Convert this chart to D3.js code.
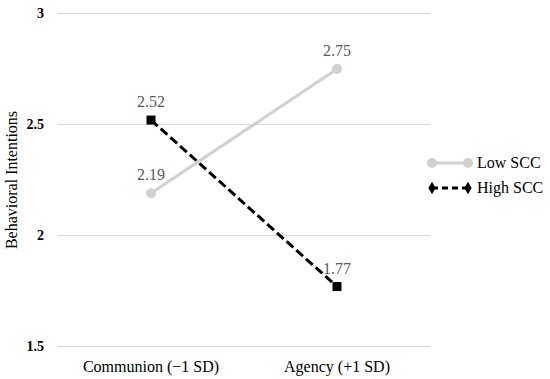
<!DOCTYPE html>
<html>
<head>
<meta charset="utf-8">
<script src="https://cdn.jsdelivr.net/npm/d3@7"></script>
</head>
<body style="margin:0;background:#fff">
<svg id="chart" width="550" height="379"></svg>
<script>
const categories = ["Communion (\u22121 SD)", "Agency (+1 SD)"];
const seriesNames = ["Low SCC", "High SCC"];
const lowScc = [2.19, 2.75];
const highScc = [2.52, 1.77];
const yTicks = [1.5, 2, 2.5, 3];

const FONT = '"Liberation Serif", "Times New Roman", serif';
const svg = d3.select("#chart");
const margin = { top: 13.5, right: 120, bottom: 32.5, left: 58 };
const width = 550, height = 379;
const lowColor = "#d0d0d0";

const x = d3.scaleBand()
  .domain(categories)
  .range([margin.left, width - margin.right]);
const y = d3.scaleLinear()
  .domain([1.5, 3])
  .range([height - margin.bottom, margin.top]);

// gridlines
svg.append("g")
  .selectAll("line")
  .data(yTicks)
  .join("line")
  .attr("x1", margin.left)
  .attr("x2", width - margin.right)
  .attr("y1", d => y(d))
  .attr("y2", d => y(d))
  .attr("stroke", "#d9d9d9")
  .attr("stroke-width", 1);

// y axis labels
const yAxis = svg.append("g")
  .attr("transform", `translate(${margin.left},0)`)
  .call(d3.axisLeft(y).tickValues(yTicks).tickSize(0).tickPadding(14).tickFormat(d3.format("")));
yAxis.select(".domain").remove();
yAxis.selectAll("text")
  .style("font-family", FONT)
  .style("font-size", "14px")
  .style("font-weight", "bold")
  .attr("fill", "#000");

// x axis labels
const xAxis = svg.append("g")
  .attr("transform", `translate(0,${height - margin.bottom})`)
  .call(d3.axisBottom(x).tickSize(0).tickPadding(14));
xAxis.select(".domain").remove();
xAxis.selectAll("text")
  .style("font-family", FONT)
  .style("font-size", "16px")
  .attr("fill", "#000");

// y axis title
svg.append("text")
  .attr("transform", `translate(17,${(y(1.5) + y(3)) / 2}) rotate(-90)`)
  .attr("text-anchor", "middle")
  .style("font-family", FONT)
  .style("font-size", "16px")
  .attr("fill", "#000")
  .text("Behavioral Intentions");

const cx = d => x(d) + x.bandwidth() / 2;
const line = d3.line().x(d => cx(d.cat)).y(d => y(d.v));
const lowPts = categories.map((c, i) => ({ cat: c, v: lowScc[i] }));
const highPts = categories.map((c, i) => ({ cat: c, v: highScc[i] }));

// Low SCC
svg.append("path")
  .datum(lowPts)
  .attr("d", line)
  .attr("fill", "none")
  .attr("stroke", lowColor)
  .attr("stroke-width", 3);
svg.append("g").selectAll("circle")
  .data(lowPts)
  .join("circle")
  .attr("cx", d => cx(d.cat))
  .attr("cy", d => y(d.v))
  .attr("r", 5)
  .attr("fill", lowColor);

// High SCC
svg.append("path")
  .datum(highPts)
  .attr("d", line)
  .attr("fill", "none")
  .attr("stroke", "#000")
  .attr("stroke-width", 3)
  .attr("stroke-dasharray", "9,4");
svg.append("g").selectAll("rect")
  .data(highPts)
  .join("rect")
  .attr("x", d => cx(d.cat) - 4.5)
  .attr("y", d => y(d.v) - 4.5)
  .attr("width", 9)
  .attr("height", 9)
  .attr("fill", "#000");

// value labels
svg.append("g").selectAll("text")
  .data(lowPts.concat(highPts))
  .join("text")
  .attr("x", d => cx(d.cat))
  .attr("y", d => y(d.v) - 13)
  .attr("text-anchor", "middle")
  .style("font-family", FONT)
  .style("font-size", "16px")
  .attr("fill", "#595959")
  .text(d => d3.format(".2f")(d.v));

// legend
const legend = svg.append("g").attr("transform", "translate(432,0)");
const lg = legend.selectAll("g")
  .data(seriesNames)
  .join("g")
  .attr("transform", (d, i) => `translate(0,${163 + i * 25})`);
lg.append("line")
  .attr("x1", 0).attr("x2", 36)
  .attr("stroke", (d, i) => i === 0 ? lowColor : "#000")
  .attr("stroke-width", 3)
  .attr("stroke-dasharray", (d, i) => i === 0 ? null : "6,4");
lg.each(function (d, i) {
  const g = d3.select(this);
  [0, 36].forEach(px => {
    if (i === 0) {
      g.append("circle").attr("cx", px).attr("cy", 0).attr("r", 5).attr("fill", lowColor);
    } else {
      g.append("path").attr("d", d3.symbol(d3.symbolDiamond, 45)()).attr("transform", `translate(${px},0)`).attr("fill", "#000");
    }
  });
});
lg.append("text")
  .attr("x", 45)
  .attr("y", 5)
  .style("font-family", FONT)
  .style("font-size", "16px")
  .attr("fill", "#000")
  .text(d => d);
</script>
</body>
</html>
